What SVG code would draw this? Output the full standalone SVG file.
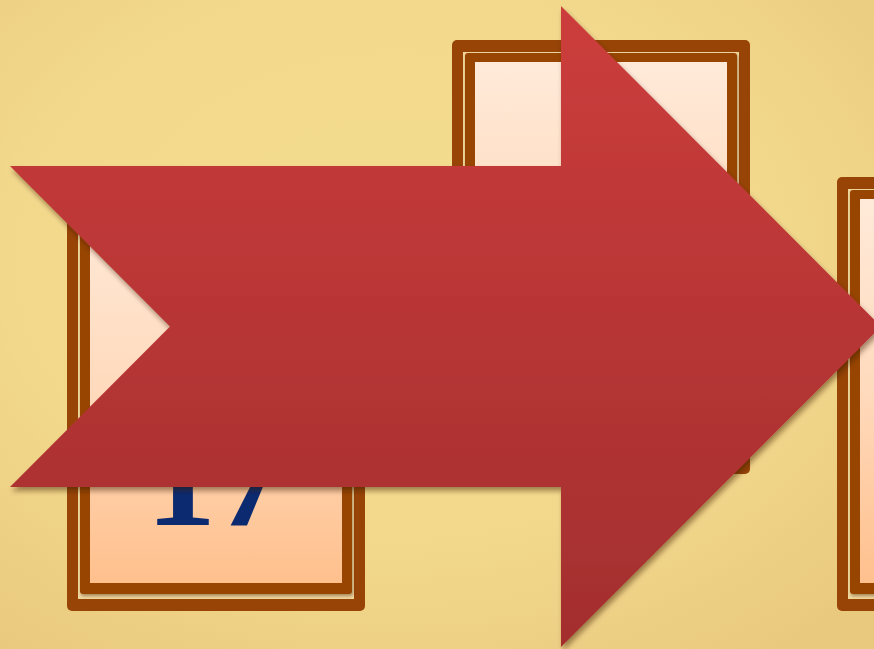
<svg xmlns="http://www.w3.org/2000/svg" width="874" height="649" viewBox="0 0 874 649">
  <defs>
    <radialGradient id="bg" cx="0.45" cy="0.4" r="0.75">
      <stop offset="0" stop-color="#F4DD90"/>
      <stop offset="0.6" stop-color="#F2D88B"/>
      <stop offset="1" stop-color="#E9C97E"/>
    </radialGradient>
    <linearGradient id="cardFill" x1="0" y1="0" x2="0" y2="1">
      <stop offset="0" stop-color="#FFEAD9"/>
      <stop offset="0.5" stop-color="#FFDABC"/>
      <stop offset="1" stop-color="#FFC08D"/>
    </linearGradient>
    <linearGradient id="arrowFill" x1="0" y1="6" x2="0" y2="647" gradientUnits="userSpaceOnUse">
      <stop offset="0" stop-color="#CC3D3C"/>
      <stop offset="1" stop-color="#A32E2E"/>
    </linearGradient>
    <filter id="shadow" x="-10%" y="-10%" width="130%" height="130%">
      <feGaussianBlur in="SourceAlpha" stdDeviation="2.5"/>
      <feOffset dx="2" dy="4" result="b"/>
      <feFlood flood-color="#3A1A00" flood-opacity="0.45"/>
      <feComposite in2="b" operator="in"/>
      <feMerge><feMergeNode/><feMergeNode in="SourceGraphic"/></feMerge>
    </filter>
    <filter id="innerShadow" x="-10%" y="-10%" width="130%" height="130%">
      <feGaussianBlur in="SourceAlpha" stdDeviation="1.5"/>
      <feOffset dx="1" dy="2" result="b"/>
      <feFlood flood-color="#3A1A00" flood-opacity="0.4"/>
      <feComposite in2="b" operator="in"/>
      <feMerge><feMergeNode/><feMergeNode in="SourceGraphic"/></feMerge>
    </filter>
    <g id="card">
      <rect x="0" y="0" width="298" height="434" rx="5" fill="#974406"/>
      <rect x="11" y="12" width="276" height="410" fill="#EFD69C"/>
      <rect x="13" y="13" width="272" height="404" rx="3" fill="#974406" filter="url(#innerShadow)"/>
      <rect x="23" y="22" width="252" height="384" fill="url(#cardFill)"/>
    </g>
  </defs>
  <style>
    .num { font-family: "Liberation Serif", "Times New Roman", serif; font-weight: bold; font-size: 140px; fill: #0B2A6F; }
  </style>
  <rect width="874" height="649" fill="url(#bg)"/>

  <g id="card-left">
    <use href="#card" x="67" y="177"/>
    <text class="num" x="216" y="525" text-anchor="middle">17</text>
  </g>
  <g id="card-middle">
    <use href="#card" x="452" y="40"/>
  </g>
  <g id="card-right">
    <use href="#card" x="837" y="177"/>
  </g>

  <g id="connectors">
    <polygon id="arrow" points="10,166 561,166 561,6 881,326.5 561,647 561,487 10,487 170,326.5" fill="url(#arrowFill)" filter="url(#shadow)"/>
  </g>
</svg>
